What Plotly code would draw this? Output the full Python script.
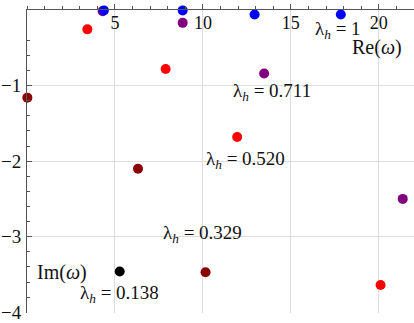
import plotly.graph_objects as go

# Quasinormal mode frequencies for several lambda_h values
lambda_labels = ["1", "0.711", "0.520", "0.329", "0.138"]
colors = ["#0000ff", "#800080", "#ff0000", "#8b0000", "#000000"]

re_1 = [4.37, 8.85, 12.94, 17.84]
im_1 = [-0.005, -0.005, -0.06, -0.06]
re_0711 = [4.30, 8.85, 13.48, 21.36]
im_0711 = [-0.015, -0.17, -0.84, -2.50]
re_0520 = [3.43, 7.88, 11.95, 20.10]
im_0520 = [-0.256, -0.78, -1.68, -3.64]
re_0329 = [0.02, 6.31, 10.15]
im_0329 = [-1.16, -2.10, -3.47]
re_0138 = [5.27]
im_0138 = [-3.46]

series_re = [re_1, re_0711, re_0520, re_0329, re_0138]
series_im = [im_1, im_0711, im_0520, im_0329, im_0138]

# label anchor points (data coords)
label_x = [17.67, 13.92, 12.44, 10.0, 5.28]
label_y = [-0.27, -1.08, -1.98, -2.97, -3.76]

FONT = "Liberation Serif"

fig = go.Figure()
# draw in order so blue is on top of purple
for i in reversed(range(len(series_re))):
    fig.add_trace(go.Scatter(
        x=series_re[i], y=series_im[i], mode="markers",
        marker=dict(color=colors[i], size=10, line=dict(width=0)),
        cliponaxis=False, showlegend=False,
    ))

for lab, lx, ly in zip(lambda_labels, label_x, label_y):
    fig.add_annotation(x=lx, y=ly, text="λ<sub><i>h</i></sub> = " + lab,
                       showarrow=False, borderpad=0,
                       font=dict(family=FONT, size=19, color="#111"))

fig.add_annotation(x=19.89, y=-0.49, text="Re(<i>ω</i>)", showarrow=False, borderpad=0,
                   font=dict(family=FONT, size=20, color="#111"))
fig.add_annotation(x=1.99, y=-3.48, text="Im(<i>ω</i>)", showarrow=False, borderpad=0,
                   font=dict(family=FONT, size=20, color="#111"))

fig.update_layout(
    width=414, height=323,
    margin=dict(l=27, r=0, t=10, b=10),
    plot_bgcolor="white", paper_bgcolor="white",
    font=dict(family=FONT, size=17, color="#111"),
)
fig.update_xaxes(
    range=[0, 22], side="top", showline=True, linecolor="#555", linewidth=1,
    tickvals=[5, 10, 15, 20], ticks="outside", ticklen=5, tickcolor="#555",
    ticklabelposition="inside", ticklabelstandoff=7,
    showgrid=True, gridcolor="#dddddd", gridwidth=1,
    zeroline=False, automargin=False,
    minor=dict(dtick=1, ticks="outside", ticklen=3, tickcolor="#555", showgrid=False),
    tickfont=dict(family=FONT, size=18, color="#111"),
)
fig.update_yaxes(
    range=[-4.01, 0], showline=True, linecolor="#555", linewidth=1,
    tickvals=[-4, -3, -2, -1], ticks="inside", ticklen=5, tickcolor="#555",
    showgrid=True, gridcolor="#dddddd", gridwidth=1, zeroline=False, automargin=False,
    minor=dict(dtick=0.2, ticks="inside", ticklen=3, tickcolor="#555", showgrid=False),
    tickfont=dict(family=FONT, size=19, color="#111"), ticklabelstandoff=1,
)

fig.write_html("out.html", config={"displayModeBar": False},
               post_script="document.body.style.margin='0';document.body.style.overflow='hidden';")
